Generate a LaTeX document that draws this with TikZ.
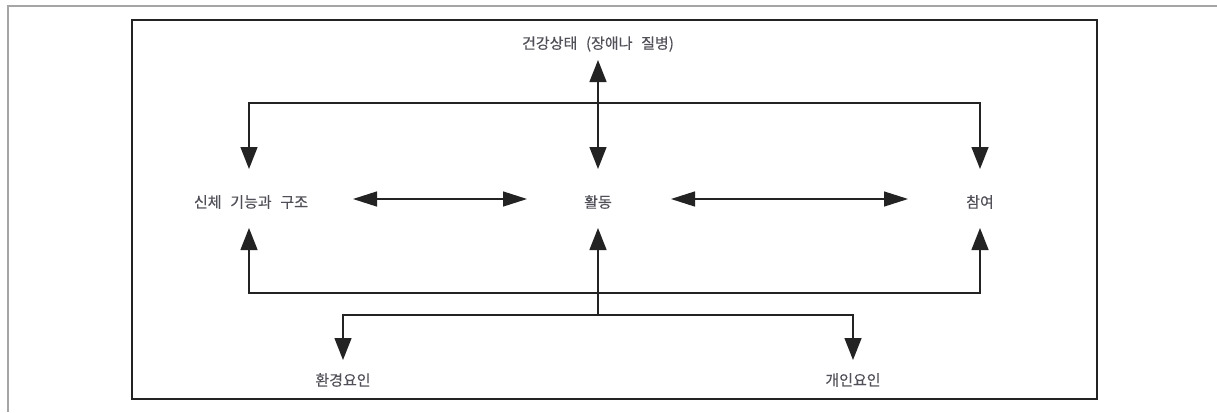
\documentclass[tikz,border=0pt]{standalone}
\usepackage{fontspec}
\setmainfont{Noto Sans CJK KR}[WordSpace=2.6, FakeBold=0.4]
\usetikzlibrary{arrows.meta,calc}
\definecolor{ink}{RGB}{35,35,35}
\definecolor{labelgray}{RGB}{80,80,88}
\definecolor{pagegray}{RGB}{165,165,165}

\begin{document}
\begin{tikzpicture}[x=1pt,y=-1pt,
  lbl/.style={inner sep=0pt, font=\fontsize{15}{18}\selectfont, text=labelgray},
  link/.style={draw=ink, line width=1.4pt},
  vtip/.tip={Triangle[length=22pt,width=17pt]},
  htip/.tip={Triangle[length=24pt,width=15pt]}]
  \useasboundingbox (0,0) rectangle (1217,412);

  % page edge and figure frame
  \draw[pagegray, line width=1.5pt] (8,412) -- (8,6) -- (1217,6);
  \draw[ink, line width=1.5pt] (132,20) rectangle (1097,399);

  % labels
  \node[lbl] (health) at (598,44)  {건강상태 (장애나 질병)};
  \node[lbl] (body)   at (251,202) {신체 기능과 구조};
  \node[lbl] (act)    at (598,202) {활동};
  \node[lbl] (part)   at (980,202) {참여};
  \node[lbl] (env)    at (343,380) {환경요인};
  \node[lbl] (pers)   at (853,380) {개인요인};

  % junction points
  \coordinate (topbar) at (598,103);
  \coordinate (lowbar) at (598,293);
  \coordinate (fork)   at (598,315);
  \coordinate (leftcol) at (249,202);

  % health condition <-> activity
  \draw[link, vtip-vtip] ($(health.center)+(0,16)$) -- ($(act.center)+(0,-33)$);

  % upper loop into body functions and participation
  \draw[link, vtip-vtip] ($(leftcol)+(0,-33)$) -- (leftcol |- topbar) -- (part.center |- topbar) -- ($(part.center)+(0,-33)$);

  % lower loop from below into body functions and participation
  \draw[link, vtip-vtip] ($(leftcol)+(0,26)$) -- (leftcol |- lowbar) -- (part.center |- lowbar) -- ($(part.center)+(0,26)$);

  % contextual factors feeding activity
  \draw[link, -vtip] (fork) -- ($(act.center)+(0,26)$);
  \draw[link, -vtip] (fork) -| ($(env.center)+(0,-20)$);
  \draw[link, -vtip] (fork) -| ($(pers.center)+(0,-20)$);

  % horizontal interactions
  \draw[link, htip-htip] ($(body.center)+(102,-3)$) -- ($(act.center)+(-71,-3)$);
  \draw[link, htip-htip] ($(act.center)+(73,-3)$) -- ($(part.center)+(-72,-3)$);
\end{tikzpicture}
\end{document}
